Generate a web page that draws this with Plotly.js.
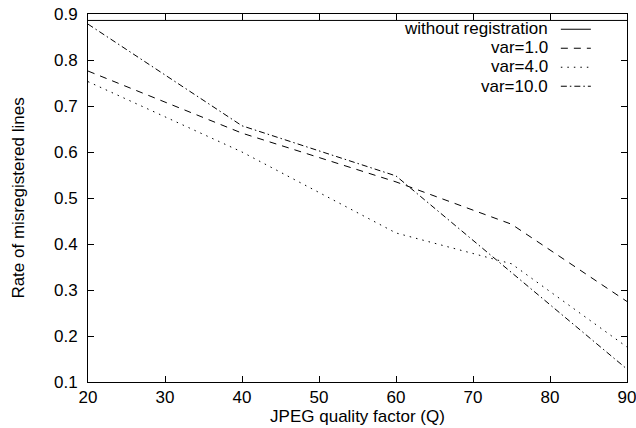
<!DOCTYPE html>
<html>
<head>
<meta charset="utf-8">
<script src="https://cdn.plot.ly/plotly-3.0.1.min.js"></script>
<style>html,body{margin:0;padding:0;background:#fff;}#chart{width:636px;height:428px;}</style>
</head>
<body>
<div id="chart"></div>
<script>
// Data
const quality = [20, 40, 60, 75, 90];
const withoutRegX = [20, 90];
const withoutRegY = [0.886, 0.886];
const var1 = [0.776, 0.641, 0.535, 0.443, 0.275];
const var4 = [0.753, 0.600, 0.424, 0.357, 0.176];
const var10 = [0.878, 0.657, 0.548, 0.338, 0.128];
const seriesNames = ["without registration", "var=1.0", "var=4.0", "var=10.0"];
const xTicks = [20, 30, 40, 50, 60, 70, 80, 90];
const yTicks = [0.1, 0.2, 0.3, 0.4, 0.5, 0.6, 0.7, 0.8, 0.9];

const FONT = "Liberation Sans, Arial, Helvetica, sans-serif";
const dashes = ["solid", "7px,6px", "1.5px,5px", "6px,3px,1.5px,3px"];
const ys = [withoutRegY, var1, var4, var10];
const xs = [withoutRegX, quality, quality, quality];

const traces = ys.map((y, i) => ({
  type: "scatter",
  mode: "lines",
  x: xs[i],
  y: y,
  name: " ",
  line: {color: "#000", width: 1, dash: dashes[i]},
  hoverinfo: "skip"
}));

const annotations = seriesNames.map((t, i) => ({
  xref: "paper", yref: "paper",
  x: 0.8575, y: 0.961 - i * 0.0525,
  xanchor: "right", yanchor: "middle",
  text: t, showarrow: false,
  font: {family: FONT, size: 17, color: "#000"}
}));

const layout = {
  width: 636, height: 428,
  margin: {l: 87.5, r: 9, t: 13.5, b: 46.3, pad: 0},
  paper_bgcolor: "#fff", plot_bgcolor: "#fff",
  font: {family: FONT, size: 17, color: "#000"},
  showlegend: true,
  legend: {
    x: 0.868, y: 0.998, xanchor: "left", yanchor: "top",
    bgcolor: "rgba(0,0,0,0)", borderwidth: 0,
    font: {family: FONT, size: 10},
    itemwidth: 30
  },
  xaxis: {
    range: [20, 90], tickvals: xTicks, ticktext: xTicks.map(String),
    ticks: "inside", ticklen: 6, tickcolor: "#000", tickwidth: 1,
    showline: true, linecolor: "#000", linewidth: 1, mirror: "ticks",
    showgrid: false, zeroline: false, ticklabeloverflow: "allow",
    tickfont: {family: FONT, size: 17},
    title: {text: "JPEG quality factor (Q)", font: {family: FONT, size: 17}, standoff: 2}
  },
  yaxis: {
    range: [0.1, 0.9], tickvals: yTicks, ticktext: yTicks.map(v => v.toFixed(1)),
    ticks: "inside", ticklen: 6, tickcolor: "#000", tickwidth: 1,
    showline: true, linecolor: "#000", linewidth: 1, mirror: "ticks",
    showgrid: false, zeroline: false, ticklabelstandoff: 6,
    tickfont: {family: FONT, size: 17},
    title: {text: "Rate of misregistered lines", font: {family: FONT, size: 17}, standoff: 25}
  },
  annotations: annotations
};

Plotly.newPlot("chart", traces, layout, {staticPlot: true, displayModeBar: false});
</script>
</body>
</html>
